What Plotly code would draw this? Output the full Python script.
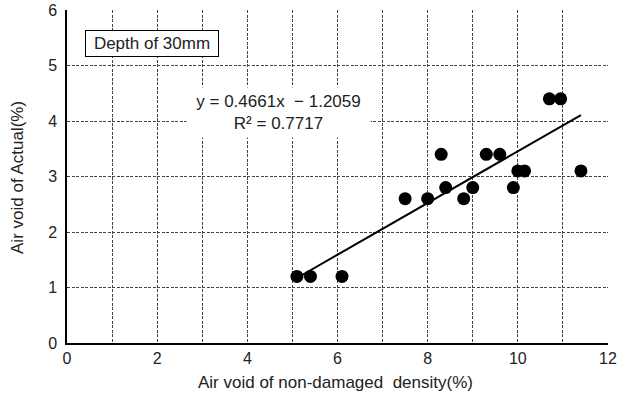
import plotly.graph_objects as go

x_nd = [5.1, 5.4, 6.1, 7.5, 8.0, 8.3, 8.4, 8.8, 9.0, 9.3, 9.6, 9.9, 10.0, 10.15, 10.7, 10.95, 11.4]
y_act = [1.2, 1.2, 1.2, 2.6, 2.6, 3.4, 2.8, 2.6, 2.8, 3.4, 3.4, 2.8, 3.1, 3.1, 4.4, 4.4, 3.1]
slope = 0.4661
intercept = -1.2059
x_ticks = [0, 2, 4, 6, 8, 10, 12]
y_ticks = [0, 1, 2, 3, 4, 5, 6]
x_title = "Air void of non-damaged  density(%)"
y_title = "Air void of Actual(%)"

trend_x = [min(x_nd), max(x_nd)]
trend_y = [slope * v + intercept for v in trend_x]

font = "Liberation Sans, Arial, sans-serif"
txt = "#222222"
gridstyle = dict(gridcolor="#444444", gridwidth=1, griddash="3px,1.5px")

fig = go.Figure()
fig.add_trace(go.Scatter(x=trend_x, y=trend_y, mode="lines",
                         line=dict(color="black", width=2), showlegend=False))
fig.add_trace(go.Scatter(x=x_nd, y=y_act, mode="markers",
                         marker=dict(color="black", size=13), showlegend=False))

fig.update_layout(
    width=623, height=404,
    margin=dict(l=67, r=15, t=10, b=61),
    paper_bgcolor="white", plot_bgcolor="white",
    font=dict(family=font, size=16, color=txt),
    xaxis=dict(range=[0, 12], tickvals=x_ticks, showgrid=True, **gridstyle,
               minor=dict(dtick=1, showgrid=True, **gridstyle),
               showline=True, linecolor="black", linewidth=1.5,
               zeroline=False, ticks="", tickfont=dict(size=16), automargin=False),
    yaxis=dict(range=[0, 6], tickvals=y_ticks, showgrid=True, **gridstyle,
               showline=True, linecolor="black", linewidth=1.5,
               zeroline=False, ticks="outside", ticklen=5, tickcolor="white",
               tickfont=dict(size=16), automargin=False),
    annotations=[
        dict(x=1.89, y=5.39, xref="x", yref="y", text="Depth of 30mm", showarrow=False,
             bgcolor="white", bordercolor="black", borderwidth=1, width=130, height=23,
             font=dict(size=17, color=txt)),
        dict(x=4.70, y=4.15, xref="x", yref="y",
             text="y = 0.4661x  − 1.2059<br>R² = 0.7717", showarrow=False,
             bgcolor="white", width=181, height=47, align="center",
             font=dict(size=17, color=txt)),
        dict(x=-0.0906, y=0.4985, xref="paper", yref="paper", text=y_title, textangle=-90,
             showarrow=False, xanchor="center", yanchor="middle", font=dict(size=17, color=txt)),
        dict(x=0.497, y=-0.12, xref="paper", yref="paper", text=x_title,
             showarrow=False, xanchor="center", yanchor="middle", font=dict(size=17, color=txt)),
    ],
)

fig.write_html("out.html", config={"displayModeBar": False},
               post_script="document.body.style.margin='0';document.body.style.overflow='hidden';")
